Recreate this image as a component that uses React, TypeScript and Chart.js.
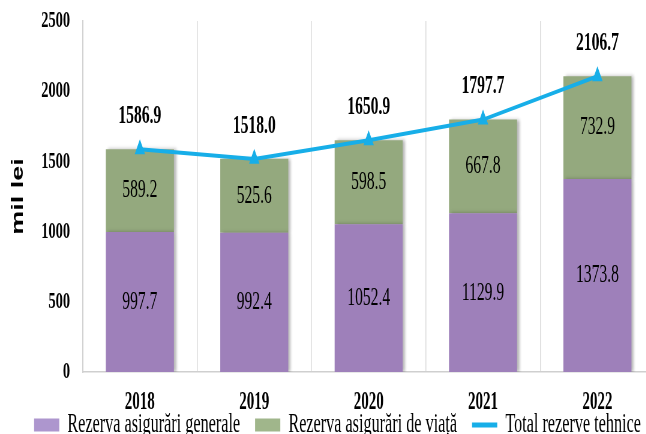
import React, { useEffect, useRef } from 'react';
import { Chart, registerables } from 'chart.js';

Chart.register(...registerables);

// ---- data ----
const categories = ['2018', '2019', '2020', '2021', '2022'];
const generalReserves = [997.7, 992.4, 1052.4, 1129.9, 1373.8];
const lifeReserves = [589.2, 525.6, 598.5, 667.8, 732.9];
const totalReserves = [1586.9, 1518.0, 1650.9, 1797.7, 2106.7];
const yTickValues = [0, 500, 1000, 1500, 2000, 2500];
const seriesNames = ['Rezerva asigurări generale', 'Rezerva asigurări de viață', 'Total rezerve tehnice'];
const yAxisTitle = 'mil lei';

// ---- layout (the reference looks horizontally condensed) ----
const SX = 0.6;
const INNER_W = 1110;
const INNER_H = 496;
const LEGEND_TOP = 386.5;
const LEGEND_SHIFT_X = 10;

const PURPLE = '#9E80BA';
const GREEN = '#94A97E';
const PURPLE_LEGEND = '#AD96CE';
const GREEN_LEGEND = '#A0B68B';
const BLUE = '#17AEE8';
const SERIF = '"Liberation Serif", "Times New Roman", serif';

const barShadow = {
  id: 'barShadow',
  beforeDatasetDraw(chart: any, args: any) {
    if (args.meta.type !== 'bar') return;
    const ctx = chart.ctx;
    ctx.save();
    ctx.shadowColor = 'rgba(0,0,0,0.28)';
    ctx.shadowBlur = 4;
    ctx.shadowOffsetX = 4;
    ctx.shadowOffsetY = 0;
  },
  afterDatasetDraw(chart: any, args: any) {
    if (args.meta.type !== 'bar') return;
    chart.ctx.restore();
  },
};

const dataLabels = {
  id: 'dataLabels',
  afterDatasetsDraw(chart: any) {
    const ctx = chart.ctx;
    ctx.save();
    ctx.textAlign = 'center';
    ctx.textBaseline = 'middle';
    ctx.fillStyle = '#000';
    chart.data.datasets.forEach((ds: any, i: number) => {
      const meta = chart.getDatasetMeta(i);
      meta.data.forEach((el: any, j: number) => {
        const v = ds.data[j] as number;
        if (meta.type === 'bar') {
          const p = el.getProps(['x', 'y', 'base'], true);
          ctx.font = `26px ${SERIF}`;
          ctx.fillText(v.toFixed(1), p.x, (p.y + p.base) / 2);
        } else {
          ctx.font = `bold 26px ${SERIF}`;
          ctx.fillText(v.toFixed(1), el.x, el.y - 33);
        }
      });
    });
    ctx.restore();
  },
};

const legendMover = {
  id: 'legendMover',
  afterLayout(chart: any) {
    const lg = chart.legend;
    if (!lg) return;
    const dy = LEGEND_TOP - lg.top;
    lg.top += dy;
    lg.bottom += dy;
    lg.left += LEGEND_SHIFT_X;
    lg.right += LEGEND_SHIFT_X;
  },
};

export default function App() {
  const ref = useRef<HTMLCanvasElement | null>(null);

  useEffect(() => {
    if (!ref.current) return;
    const chart = new Chart(ref.current, {
      type: 'bar',
      data: {
        labels: categories,
        datasets: [
          {
            type: 'bar',
            label: seriesNames[0],
            data: generalReserves,
            backgroundColor: PURPLE,
            borderWidth: 0,
            stack: 'reserves',
            order: 1,
            categoryPercentage: 1,
            barPercentage: 0.595,
          } as any,
          {
            type: 'bar',
            label: seriesNames[1],
            data: lifeReserves,
            backgroundColor: GREEN,
            borderWidth: 0,
            stack: 'reserves',
            order: 1,
            categoryPercentage: 1,
            barPercentage: 0.595,
          } as any,
          {
            type: 'line',
            label: seriesNames[2],
            data: totalReserves,
            borderColor: BLUE,
            backgroundColor: BLUE,
            borderWidth: 4,
            pointStyle: 'triangle',
            pointRadius: 6,
            pointBackgroundColor: BLUE,
            pointBorderColor: BLUE,
            tension: 0,
            stack: 'total',
            order: 0,
          } as any,
        ],
      },
      options: {
        animation: false,
        responsive: false,
        layout: { padding: { top: 21, left: 14, right: 19, bottom: 0 } },
        scales: {
          x: {
            stacked: true,
            offset: true,
            grid: { display: true, offset: true, color: '#dcdcdc', lineWidth: 1.6, drawTicks: false },
            border: { display: true, color: '#cfcfcf', width: 1.5 },
            ticks: { color: '#000', font: { family: SERIF, size: 25, weight: 'bold' }, padding: 16 },
          },
          y: {
            stacked: true,
            min: 0,
            max: 2500,
            afterBuildTicks: (s: any) => { s.ticks = yTickValues.map((v) => ({ value: v })); },
            grid: { display: false, drawTicks: false },
            border: { display: true, color: '#cfcfcf', width: 2 },
            ticks: {
              color: '#000',
              font: { family: SERIF, size: 24, weight: 'bold' },
              padding: 21,
              callback: (v: any) => String(v),
            },
            title: {
              display: true,
              text: yAxisTitle,
              color: '#000',
              padding: 0,
              font: { family: '"Liberation Sans", Arial, sans-serif', size: 27, weight: 'bold' },
            },
            afterFit: (s: any) => {
              s.width = 123.8;
              s.paddingTop = 0;
              s.paddingBottom = 0;
            },
          },
        },
        plugins: {
          title: { display: false },
          tooltip: { enabled: false },
          legend: {
            display: true,
            position: 'bottom',
            labels: {
              color: '#000',
              font: { family: SERIF, size: 27 },
              usePointStyle: true,
              pointStyleWidth: 42,
              boxWidth: 42,
              boxHeight: 13,
              padding: 25,
              generateLabels: (c: any) => {
                const items = Chart.defaults.plugins.legend.labels.generateLabels(c);
                return items
                  .slice()
                  .sort((a: any, b: any) => a.datasetIndex - b.datasetIndex)
                  .map((it: any) => {
                    if (it.datasetIndex === 0) return { ...it, pointStyle: 'rect', fillStyle: PURPLE_LEGEND, lineWidth: 0 };
                    if (it.datasetIndex === 1) return { ...it, pointStyle: 'rect', fillStyle: GREEN_LEGEND, lineWidth: 0 };
                    return { ...it, pointStyle: 'line', strokeStyle: BLUE, lineWidth: 5 };
                  });
              },
            },
          },
        },
      },
      plugins: [barShadow, dataLabels, legendMover],
    } as any);
    return () => chart.destroy();
  }, []);

  return (
    <div style={{ position: 'fixed', left: 0, top: 0, width: 646, height: 434, overflow: 'hidden', background: '#fff' }}>
      <div style={{ position: 'relative', width: INNER_W, height: INNER_H, transform: `scaleX(${SX})`, transformOrigin: '0 0' }}>
        <canvas ref={ref} width={INNER_W} height={INNER_H} style={{ width: INNER_W, height: INNER_H, display: 'block' }} />
      </div>
    </div>
  );
}
